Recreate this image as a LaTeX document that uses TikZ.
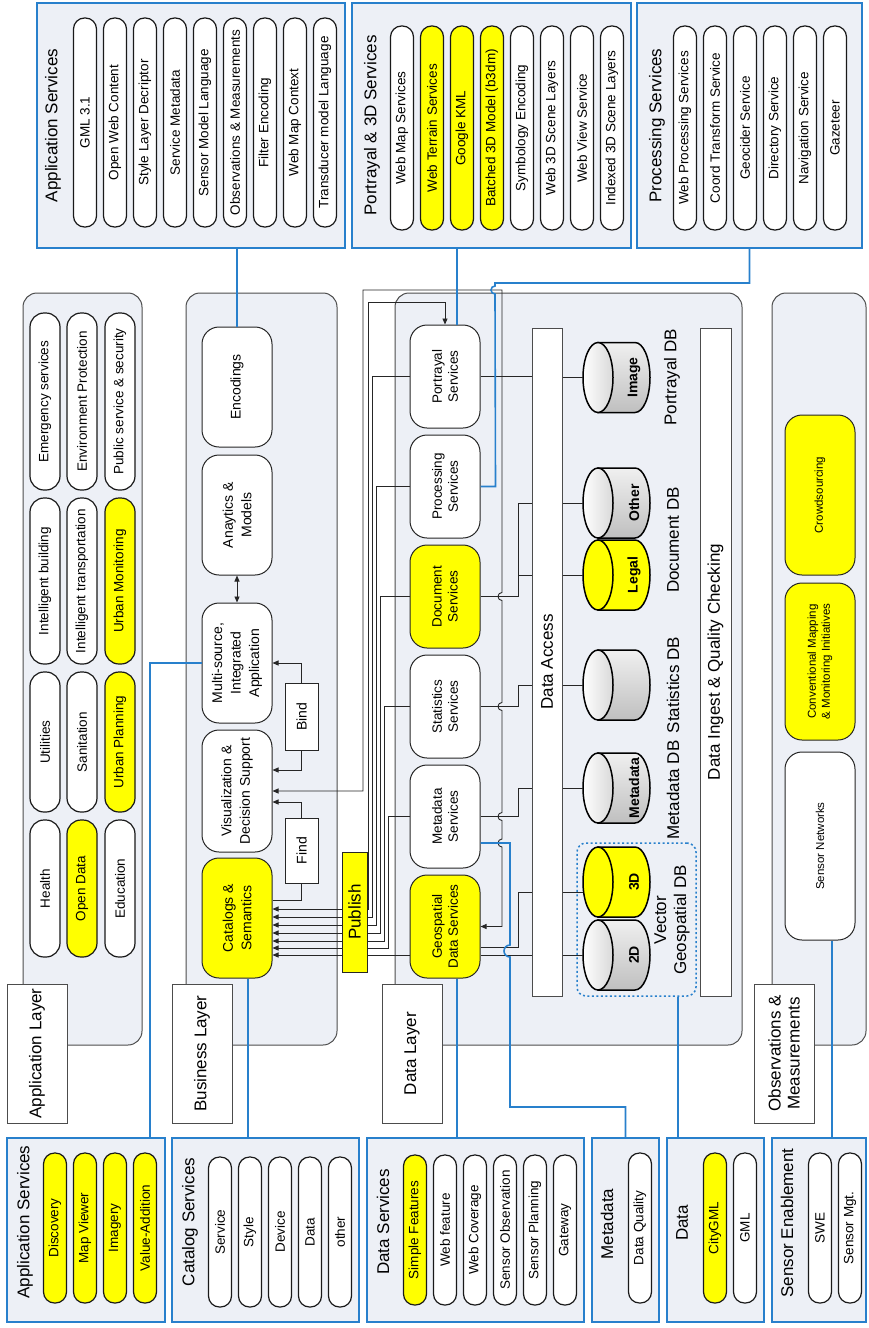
\documentclass[tikz,border=0pt]{standalone}
\usepackage{fontspec}
\setmainfont{Liberation Sans}
\usetikzlibrary{arrows.meta, positioning, calc}

\definecolor{panelbg}{RGB}{237,240,246}
\definecolor{ogcblue}{RGB}{40,128,204}
\definecolor{hilite}{RGB}{255,255,0}

% database drum lying on its side: name, centre y, body, face, label
\newcommand{\dbcyl}[5]{%
  \begin{scope}[shift={(0,#2)}]
    \path[cylline, #3] (598,-35) -- (635,-35)
      arc[start angle=90, end angle=-90, x radius=15pt, y radius=35pt]
      -- (598,35) -- cycle;
    \path[cylline, #4] (598,0) ellipse[x radius=15pt, y radius=35pt];
    \node[dblabel] (#1) at (634,0) {#5};
    \coordinate (#1-in) at (583,0);
  \end{scope}}

\begin{document}
\begin{tikzpicture}[x=1pt, y=-1pt,
    font=\fontsize{13.5}{15.5}\selectfont,
    panel/.style={draw=ogcblue, line width=1.6pt, fill=panelbg, inner sep=0pt},
    layerbox/.style={draw=black!70, line width=1pt, fill=panelbg,
                     rounded corners=14pt, inner sep=0pt},
    laytag/.style={draw=black!70, line width=1pt, fill=white, rotate=90,
                   minimum width=139pt, minimum height=60pt, align=center,
                   inner sep=0pt, font=\fontsize{17}{19}\selectfont},
    ptitle/.style={rotate=90, inner sep=0pt, font=\fontsize{17}{19}\selectfont},
    pill/.style={draw=black!90, line width=1.2pt, fill=white, rounded corners=11pt,
                 rotate=90, minimum width=#1, minimum height=23pt, inner sep=0pt},
    apill/.style={pill=#1, minimum height=30pt, rounded corners=14pt},
    bnode/.style={draw=black!85, line width=1pt, fill=white, rounded corners=17pt,
                  rotate=90, minimum width=120pt, minimum height=70pt,
                  inner sep=1pt, align=center, font=\fontsize{14}{18.5}\selectfont},
    dnode/.style={bnode, minimum width=103pt, font=\fontsize{13.5}{16}\selectfont},
    onode/.style={bnode, minimum width=#1, font=\fontsize{11.5}{14}\selectfont},
    smallbox/.style={draw=black!85, line width=1pt, fill=white, rotate=90,
                     minimum height=33pt, inner sep=0pt,
                     font=\fontsize{14}{16}\selectfont},
    accbar/.style={draw=black!70, line width=1pt, fill=white, rotate=90,
                   minimum width=668pt, minimum height=30pt, inner sep=0pt,
                   font=\fontsize{17}{19}\selectfont},
    dbtext/.style={rotate=90, inner sep=0pt, align=center,
                   font=\fontsize{17}{20}\selectfont},
    dblabel/.style={rotate=90, inner sep=0pt, font=\fontsize{14}{16}\selectfont\bfseries},
    cylline/.style={draw=black, line width=1.5pt},
    dbbody/.style={top color=gray!12, bottom color=gray!50},
    dbface/.style={left color=white, right color=gray!30},
    hot/.style={fill=hilite},
    link/.style={draw=black!85, line width=0.9pt},
    arr/.style={-{Triangle[length=6pt, width=5pt]}},
    arrtwo/.style={{Triangle[length=6pt, width=5pt]}-{Triangle[length=6pt, width=5pt]}},
    wire/.style={draw=ogcblue, line width=1.6pt}
  ]
  \useasboundingbox (0,0) rectangle (868,1328);

  % standards panels along the top
  \node[panel, minimum width=308pt, minimum height=245pt] (appsrv) at (191,125.5) {};
  \node[ptitle] (appsrv-t) at (53,125.5) {Application Services};
  \foreach \txt [count=\i from 0] in {GML 3.1, Open Web Content, Style Layer Decriptor,
      Service Metadata, Sensor Model Language, Observations \& Measurements,
      Filter Encoding, Web Map Context, Transducer model Language}
    \node[pill=209pt] (appsrv\i) at ({85+30*\i},122.5) {\txt};

  \node[panel, minimum width=279pt, minimum height=245pt] (p3d) at (491.5,125.5) {};
  \node[ptitle] (p3d-t) at (372,125.5) {Portrayal \& 3D Services};
  \foreach \txt/\col [count=\i from 0] in {Web Map Services/white,
      Web Terrain Services/hilite, Google KML/hilite, Batched 3D Model (b3dm)/hilite,
      Symbology Encoding/white, Web 3D Scene Layers/white, Web View Service/white,
      Indexed 3D Scene Layers/white}
    \node[pill=204pt, fill=\col] (p3d\i) at ({402+30*\i},128) {\txt};

  \node[panel, minimum width=225pt, minimum height=245pt] (prc) at (749.5,125.5) {};
  \node[ptitle] (prc-t) at (657,125.5) {Processing Services};
  \foreach \txt [count=\i from 0] in {Web Processing Services, Coord Transform Service,
      Geocider Service, Directory Service, Navigation Service, Gazeteer}
    \node[pill=204pt] (prc\i) at ({685+30*\i},128) {\txt};

  % standards panels along the bottom
  \node[panel, minimum width=158pt, minimum height=184pt] (asv) at (86,1230) {};
  \node[ptitle] (asv-t) at (25,1222) {Application Services};
  \foreach \txt [count=\i from 0] in {Discovery, Map Viewer, Imagery, Value-Addition}
    \node[pill=150pt, hot] (asv\i) at ({55+30*\i},1228) {\txt};

  \node[panel, minimum width=187pt, minimum height=184pt] (catsrv) at (265.5,1230) {};
  \node[ptitle] (catsrv-t) at (190,1222) {Catalog Services};
  \foreach \txt [count=\i from 0] in {Service, Style, Device, Data, other}
    \node[pill=150pt] (catsrv\i) at ({220+30*\i},1232) {\txt};

  \node[panel, minimum width=217pt, minimum height=184pt] (dsrv) at (475.5,1230) {};
  \node[ptitle] (dsrv-t) at (383,1222) {Data Services};
  \foreach \txt/\col [count=\i from 0] in {Simple Features/hilite, Web feature/white,
      Web Coverage/white, Sensor Observation/white, Sensor Planning/white, Gateway/white}
    \node[pill=150pt, fill=\col] (dsrv\i) at ({415+30*\i},1230) {\txt};

  \node[panel, minimum width=67pt, minimum height=184pt] (mdsrv) at (625.5,1230) {};
  \node[ptitle] (mdsrv-t) at (607,1224) {Metadata};
  \node[pill=150pt] (mdsrv0) at (640,1228) {Data Quality};

  \node[panel, minimum width=97pt, minimum height=184pt] (datsrv) at (715.5,1230) {};
  \node[ptitle] (datsrv-t) at (682,1223) {Data};
  \node[pill=150pt, hot] (datsrv0) at (715,1228) {CityGML};
  \node[pill=150pt] (datsrv1) at (745,1228) {GML};

  \node[panel, minimum width=94pt, minimum height=184pt] (sesrv) at (819,1230) {};
  \node[ptitle] (sesrv-t) at (787,1223) {Sensor Enablement};
  \node[pill=150pt] (sesrv0) at (820,1228) {SWE};
  \node[pill=150pt] (sesrv1) at (850,1228) {Sensor Mgt.};

  % the four layers
  \node[layerbox, minimum width=119pt, minimum height=752pt] (applay) at (82.5,669) {};
  \node[layerbox, minimum width=151pt, minimum height=752pt] (buslay) at (261.5,669) {};
  \node[layerbox, minimum width=347pt, minimum height=752pt] (datlay) at (568.5,669) {};
  \node[layerbox, minimum width=94pt, minimum height=752pt] (obslay) at (819,669) {};
  \node[laytag] (applay-t) at (37,1053.5) {Application Layer};
  \node[laytag] (buslay-t) at (202,1053.5) {Business Layer};
  \node[laytag] (datlay-t) at (412,1053.5) {Data Layer};
  \node[laytag] (obslay-t) at (784,1053.5) {Observations \&\\Measurements};

  % application layer
  \node[apill=177pt] (emg) at (45,401.5) {Emergency services};
  \node[apill=166pt] (ibd) at (45,581) {Intelligent building};
  \node[apill=140pt] (utl) at (45,742) {Utilities};
  \node[apill=137pt] (hlt) at (45,888.5) {Health};
  \node[apill=177pt] (env) at (82,401.5) {Environment Protection};
  \node[apill=166pt] (itr) at (82,581) {Intelligent transportation};
  \node[apill=140pt] (san) at (82,742) {Sanitation};
  \node[apill=137pt, hot] (odt) at (82,888.5) {Open Data};
  \node[apill=177pt] (pss) at (120,401.5) {Public service \& security};
  \node[apill=166pt, hot] (umo) at (120,581) {Urban Monitoring};
  \node[apill=140pt, hot] (upl) at (120,742) {Urban Planning};
  \node[apill=137pt] (edu) at (120,888.5) {Education};

  % business layer
  \node[bnode] (enc) at (237,387) {Encodings};
  \node[bnode] (ana) at (237,515) {Anaytics \&\\Models};
  \node[bnode] (msi) at (237,663) {Multi-source,\\Integrated\\Application};
  \node[bnode, minimum width=122pt] (vis) at (237,791) {Visualization \&\\Decision Support};
  \node[bnode, hot] (cat) at (237,918) {Catalogs \&\\Semantics};
  \node[smallbox, minimum width=67pt] (bind) at (301.5,716.5) {Bind};
  \node[smallbox, minimum width=65pt] (find) at (301.5,850.5) {Find};

  % data layer
  \node[dnode] (por) at (445,376.5) {Portrayal\\Services};
  \node[dnode] (pro) at (445,486.5) {Processing\\Services};
  \node[dnode, hot] (doc) at (445,596.5) {Document\\Services};
  \node[dnode] (sta) at (445,706.5) {Statistics\\Services};
  \node[dnode] (met) at (445,816.5) {Metadata\\Services};
  \node[dnode, hot] (geo) at (445,926.5) {Geospatial\\Data Services};
  \node[accbar] (dac) at (547,662) {Data Access};
  \node[accbar, minimum height=31pt] (ing) at (715.5,662) {Data Ingest \& Quality Checking};

  \node[draw=ogcblue, line width=1.5pt, dash pattern=on 2pt off 2.5pt,
        rounded corners=9pt, minimum width=119pt, minimum height=153pt]
    (vgbox) at (636.5,919.5) {};
  \dbcyl{img}{377.5}{dbbody}{dbface}{Image}
  \dbcyl{oth}{503}{dbbody}{dbface}{Other}
  \dbcyl{leg}{575}{hot}{hot}{Legal}
  \dbcyl{sdb}{685}{dbbody}{dbface}{}
  \dbcyl{mdb}{788}{dbbody}{dbface}{Metadata}
  \dbcyl{thd}{882}{hot}{hot}{3D}
  \dbcyl{twd}{955}{dbbody}{dbface}{2D}
  \node[dbtext] (img-t) at (672,377.5) {Portrayal DB};
  \node[dbtext] (doc-t) at (673,540) {Document DB};
  \node[dbtext] (sdb-t) at (673,685) {Statistics DB};
  \node[dbtext] (mdb-t) at (673,790) {Metadata DB};
  \node[dbtext] (vg-t) at (672,920) {Vector\\Geospatial DB};

  % observations & measurements
  \node[onode=160pt, hot] (crowd) at (820,495) {Crowdsourcing};
  \node[onode=157pt, hot] (conv) at (820,661.5) {Conventional Mapping\\\& Monitoring Initiatives};
  \node[onode=188pt] (sen) at (820,846) {Sensor Networks};

  % links inside the business layer
  \draw[link, arrtwo] (ana.west) -- (msi.east);
  \draw[link, arr] (bind.east) |- (msi.south);
  \draw[link, arr] (bind.west) |- ([yshift=21pt]vis.south);
  \draw[link, arr] (find.east) |- ([yshift=-11pt]vis.south);
  \draw[link] ([yshift=18pt]cat.south) -| (find.west);

  % loop from visualization round to the geospatial services
  \draw[link, arrtwo] (vis.south) -| (363,290) -- (502,290) -- (502,592.5)
    arc[start angle=90, end angle=270, radius=4pt] -- (502,702.5)
    arc[start angle=90, end angle=270, radius=4pt] -- (502,812.5)
    arc[start angle=90, end angle=270, radius=4pt] -- (502,839)
    arc[start angle=90, end angle=270, radius=4pt] -- (502,926.5) -- (geo.south);

  % services published to the catalogue
  \draw[link, arrtwo] ([yshift=9pt]cat.south) -| (368,302) -| (por.east);
  \draw[link, arr] (por.north) -| (372,917) -- ([yshift=1pt]cat.south);
  \draw[link, arr] (pro.north) -| (376,925) -- ([yshift=-7pt]cat.south);
  \draw[link, arr] (doc.north) -| (380,933) -- ([yshift=-15pt]cat.south);
  \draw[link, arr] (sta.north) -| (384,941) -- ([yshift=-23pt]cat.south);
  \draw[link, arr] (met.north) -| (388,948) -- ([yshift=-30pt]cat.south);
  \draw[link, arr] ([yshift=-28.5pt]geo.north) coordinate (geol) -- (geol -| cat.south);

  % services to data access, data access to the stores
  \draw[link] (por.south) -- (por.south -| dac.north);
  \draw[link] (doc.south) -| (518,503) -- (dac.north |- oth-in);
  \draw[link] (518,575) -- (dac.north |- leg-in);
  \draw[link] (sta.south) -| (518,685) -- (dac.north |- sdb-in);
  \draw[link] (met.south) -| (518,788) -- (dac.north |- mdb-in);
  \draw[link] ([yshift=-20.5pt]geo.south) -| (518,892) -- (dac.north |- 0,892);
  \draw[link] ([yshift=-28.5pt]geo.south) -- (dac.north |- twd-in);
  \foreach \db in {img, oth, leg, sdb, mdb, twd}
    \draw[link] (dac.south |- \db-in) -- (\db-in);
  \draw[link] (dac.south |- 0,892) -- (583,892);

  % blue links to the standards panels
  \draw[wire] (enc.east) -- (enc.east |- appsrv.south);
  \draw[wire] (por.east) ++(12,0) coordinate (porw) -- (porw |- p3d.south);
  \draw[wire] (pro.south) -- ++(15,0) -- (495,294)
    arc[start angle=270, end angle=90, radius=4pt] -- (495,283) -| (prc.south);
  \draw[wire] (msi.north) -| ([xshift=64pt]asv.north);
  \draw[wire] (cat.west) ++(11,0) coordinate (catw) -- (catw |- catsrv.north);
  \draw[wire] (geo.west) ++(12,0) coordinate (geow) -- (geow |- dsrv.north);
  \draw[wire] ([yshift=-26.5pt]met.south) -- (510,843) -- (510,945)
    arc[start angle=90, end angle=270, radius=6pt] -- (510,1107) -| (mdsrv.north);
  \draw[wire] (vgbox.south -| 678,0) -- (datsrv.north -| 678,0);
  \draw[wire] (sen.west) ++(12,0) coordinate (senw) -- (senw |- sesrv.north);

  \node[smallbox, hot, minimum width=120pt, minimum height=25pt,
        font=\fontsize{17}{19}\selectfont] (pub) at (354.5,912) {Publish};
\end{tikzpicture}
\end{document}
